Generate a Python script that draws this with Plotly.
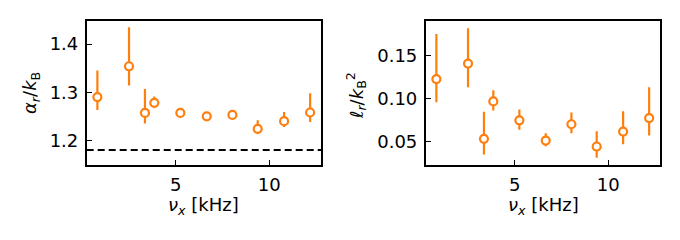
import plotly.graph_objects as go

nu_x = [0.82, 2.51, 3.36, 3.86, 5.25, 6.66, 8.03, 9.38, 10.79, 12.18]
alpha = [1.290, 1.354, 1.257, 1.278, 1.257, 1.250, 1.253, 1.224, 1.240, 1.258]
alpha_hi = [1.345, 1.435, 1.307, 1.291, 1.262, 1.254, 1.259, 1.242, 1.259, 1.298]
alpha_lo = [1.263, 1.314, 1.235, 1.268, 1.252, 1.246, 1.247, 1.214, 1.228, 1.238]
ell = [0.123, 0.141, 0.0535, 0.097, 0.075, 0.0515, 0.0705, 0.0446, 0.062, 0.0777]
ell_hi = [0.1755, 0.182, 0.085, 0.110, 0.0877, 0.060, 0.084, 0.0623, 0.0857, 0.1135]
ell_lo = [0.096, 0.1135, 0.0353, 0.0865, 0.064, 0.045, 0.060, 0.0315, 0.0473, 0.0573]
alpha_ref = 1.18

x_title = "<i>ν<sub>x</sub></i> [kHz]"
alpha_title = "<i>α<sub>r</sub></i>/<i>k</i><sub>B</sub>"
ell_title = "<i>ℓ<sub>r</sub></i>/<i>k</i><sub>B</sub><sup>2</sup>"

ORANGE = "#ff7f0e"
FONT = "DejaVu Sans"
FS = 18
# page has an 8px body margin; the figure is sized to fit inside the 680x240 window
OFF = 8
W, H = 680 - 2 * OFF, 240 - 2 * OFF

def fx(px):
    return (px - OFF) / W

def fy(py):
    return 1 - (py - OFF) / H

def err(vals, hi, lo):
    return (dict(type="data", symmetric=False,
                 array=[h - v for h, v in zip(hi, vals)],
                 arrayminus=[v - l for l, v in zip(lo, vals)],
                 color=ORANGE, thickness=2.2, width=0))

fig = go.Figure()
fig.add_trace(go.Scatter(x=nu_x, y=alpha, mode="markers", xaxis="x", yaxis="y",
                         error_y=err(alpha, alpha_hi, alpha_lo),
                         marker=dict(color="white", size=8, line=dict(color=ORANGE, width=2.2)),
                         showlegend=False))
fig.add_trace(go.Scatter(x=nu_x, y=ell, mode="markers", xaxis="x2", yaxis="y2",
                         error_y=err(ell, ell_hi, ell_lo),
                         marker=dict(color="white", size=8, line=dict(color=ORANGE, width=2.2)),
                         showlegend=False))

fig.add_shape(type="line", xref="x domain", yref="y", x0=0, x1=1, y0=alpha_ref, y1=alpha_ref,
              line=dict(color="black", width=2, dash="7px,4px"))

def px_ann(text, xpx, ypx, angle=0):
    fig.add_annotation(text=text, x=fx(xpx), y=fy(ypx), xref="paper", yref="paper",
                       showarrow=False, textangle=angle, xanchor="center", yanchor="middle",
                       font=dict(family=FONT, size=FS, color="black"))

px_ann(x_title, 203, 206)
px_ann(x_title, 543, 206)
px_ann(alpha_title, 31, 93, -90)
px_ann(ell_title, 356, 96, -90)

axcommon = dict(showline=True, linecolor="black", linewidth=1.6, mirror=True,
                ticks="inside", ticklen=5, tickwidth=1.3, tickcolor="black",
                showgrid=False, zeroline=False, ticklabelstandoff=3,
                tickfont=dict(family=FONT, size=FS, color="black"))

ydom = [fy(164.5), fy(21)]
fig.update_layout(
    width=W, height=H,
    margin=dict(l=0, r=0, t=0, b=0),
    plot_bgcolor="white", paper_bgcolor="white",
    font=dict(family=FONT, size=FS, color="black"),
    xaxis=dict(domain=[fx(86.7), fx(321)], range=[0.25, 12.76], tickvals=[5, 10], anchor="y", **axcommon),
    yaxis=dict(domain=ydom, range=[1.150, 1.448], tickvals=[1.2, 1.3, 1.4],
               tickformat=".1f", anchor="x", **axcommon),
    xaxis2=dict(domain=[fx(425.7), fx(660)], range=[0.25, 12.76], tickvals=[5, 10], anchor="y2", **axcommon),
    yaxis2=dict(domain=ydom, range=[0.0237, 0.1905], tickvals=[0.05, 0.10, 0.15],
                tickformat=".2f", anchor="x2", **axcommon),
)

fig.write_html("out.html")
